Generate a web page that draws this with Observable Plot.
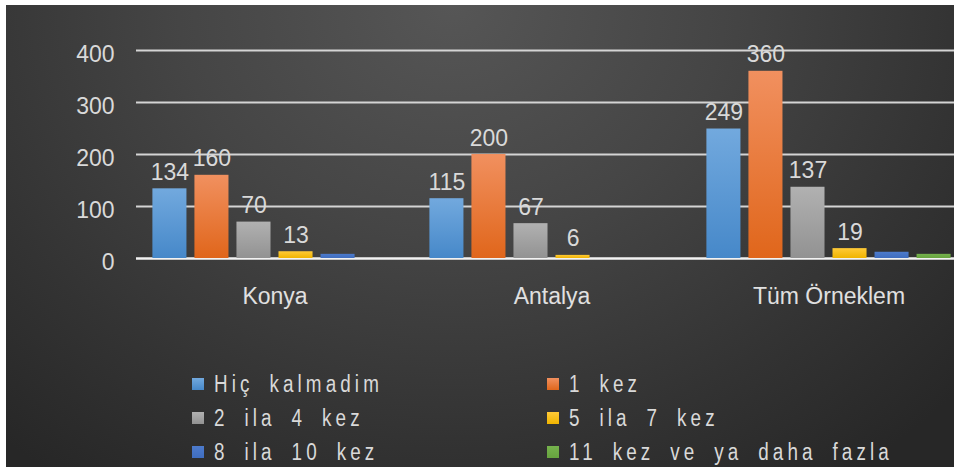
<!DOCTYPE html>
<html><head><meta charset="utf-8">
<script src="https://cdn.jsdelivr.net/npm/d3@7"></script>
<script src="https://cdn.jsdelivr.net/npm/@observablehq/plot@0.6"></script>
<style>
html,body{margin:0;padding:0;background:#fff;overflow:hidden;width:954px;height:467px}
#frame{position:absolute;left:6px;top:5px;width:948px;height:462px;overflow:hidden;
  background: radial-gradient(ellipse 72% 125% at 47% 0%, #565656 0%, #454545 40%, #333333 75%, #272727 100%);
  font-family:"Liberation Sans", Arial, sans-serif;}
#chart{position:absolute;left:0;top:0}
#legend{position:absolute;left:186px;top:362px;display:grid;grid-template-columns:355px 355px;grid-auto-rows:34px;}
.item{display:flex;align-items:center;color:#d9d9d9;font-size:23px;white-space:nowrap}
.item span{display:inline-block;transform:scaleX(0.82);transform-origin:left center;letter-spacing:5px;word-spacing:8px}
.sw{width:12px;height:12px;margin-right:10px;flex:none}
g[aria-label="x-labels"] text{letter-spacing:0.8px;word-spacing:8px}
#defs{position:absolute;width:0;height:0}
</style></head>
<body>
<svg id="defs" width="0" height="0"><defs></defs></svg>
<div id="frame"><div id="chart"></div><div id="legend"></div></div>
<script>
const groups = ["Konya", "Antalya", "Tüm Örneklem"];
const series = ["Hiç kalmadim", "1 kez", "2 ila 4 kez", "5 ila 7 kez", "8 ila 10 kez", "11 kez ve ya daha fazla"];
const konya = [134, 160, 70, 13, 8, 0];
const antalya = [115, 200, 67, 6, 0, 0];
const tumOrneklem = [249, 360, 137, 19, 12, 8];
const yTicks = [0, 100, 200, 300, 400];
const labeledSeries = series.slice(0, 4);

const colorsTop = ["#72a9de", "#f1905f", "#b1b1b1", "#ffca38", "#4d7bcc", "#76b34d"];
const colorsBottom = ["#4688c9", "#e0661b", "#929292", "#f0b400", "#3f6dbf", "#67a33f"];

// gradient defs
const defs = d3.select("#defs defs");
series.forEach((s, i) => {
  const g = defs.append("linearGradient").attr("id", "grad" + i).attr("x1", 0).attr("y1", 0).attr("x2", 0).attr("y2", 1);
  g.append("stop").attr("offset", "0%").attr("stop-color", colorsTop[i]);
  g.append("stop").attr("offset", "100%").attr("stop-color", colorsBottom[i]);
});

const values = [konya, antalya, tumOrneklem];
const rows = groups.flatMap((g, gi) => series.map((s, si) => ({group: g, series: s, value: values[gi][si]})));
const labelRows = rows.filter(d => labeledSeries.includes(d.series) && d.value > 0);
const tickRows = yTicks.map(v => ({group: groups[0], v}));

const chart = Plot.plot({
  width: 948, height: 340,
  marginLeft: 129.5, marginRight: -12.5, marginTop: 45, marginBottom: 87,
  style: {background: "transparent", fontFamily: "Liberation Sans, Arial, sans-serif"},
  fx: {domain: groups, padding: 0, axis: null},
  x: {domain: series, paddingInner: 0.19, paddingOuter: 0.39, axis: null, round: false},
  y: {domain: [0, 400], axis: null},
  color: {domain: series, range: series.map((s, i) => `url(#grad${i})`)},
  marks: [
    Plot.ruleY(yTicks.filter(v => v > 0), {stroke: "#d4d4d4", strokeWidth: 1.8}),
    Plot.ruleY([0], {stroke: "#f2f2f2", strokeWidth: 2.4}),
    Plot.barY(rows, {fx: "group", x: "series", y: "value", fill: "series"}),
    Plot.text(labelRows, {fx: "group", x: "series", y: "value", text: d => String(d.value),
      lineAnchor: "bottom", dy: -9, fill: "#d9d9d9", fontSize: 23}),
    Plot.text(tickRows, {fx: "group", y: "v", text: d => String(d.v), frameAnchor: "left",
      textAnchor: "end", dx: -22, dy: 4, fill: "#d9d9d9", fontSize: 23}),
    Plot.text(groups, {fx: d => d, text: d => d, frameAnchor: "bottom", lineAnchor: "middle",
      dy: 38, fill: "#e0e0e0", fontSize: 23, ariaLabel: "x-labels"})
  ]
});
document.getElementById("chart").appendChild(chart);

const legend = d3.select("#legend");
series.forEach((s, i) => {
  const it = legend.append("div").attr("class", "item");
  it.append("div").attr("class", "sw").style("background", `linear-gradient(${colorsTop[i]}, ${colorsBottom[i]})`);
  it.append("span").text(s);
});
</script>
</body></html>
